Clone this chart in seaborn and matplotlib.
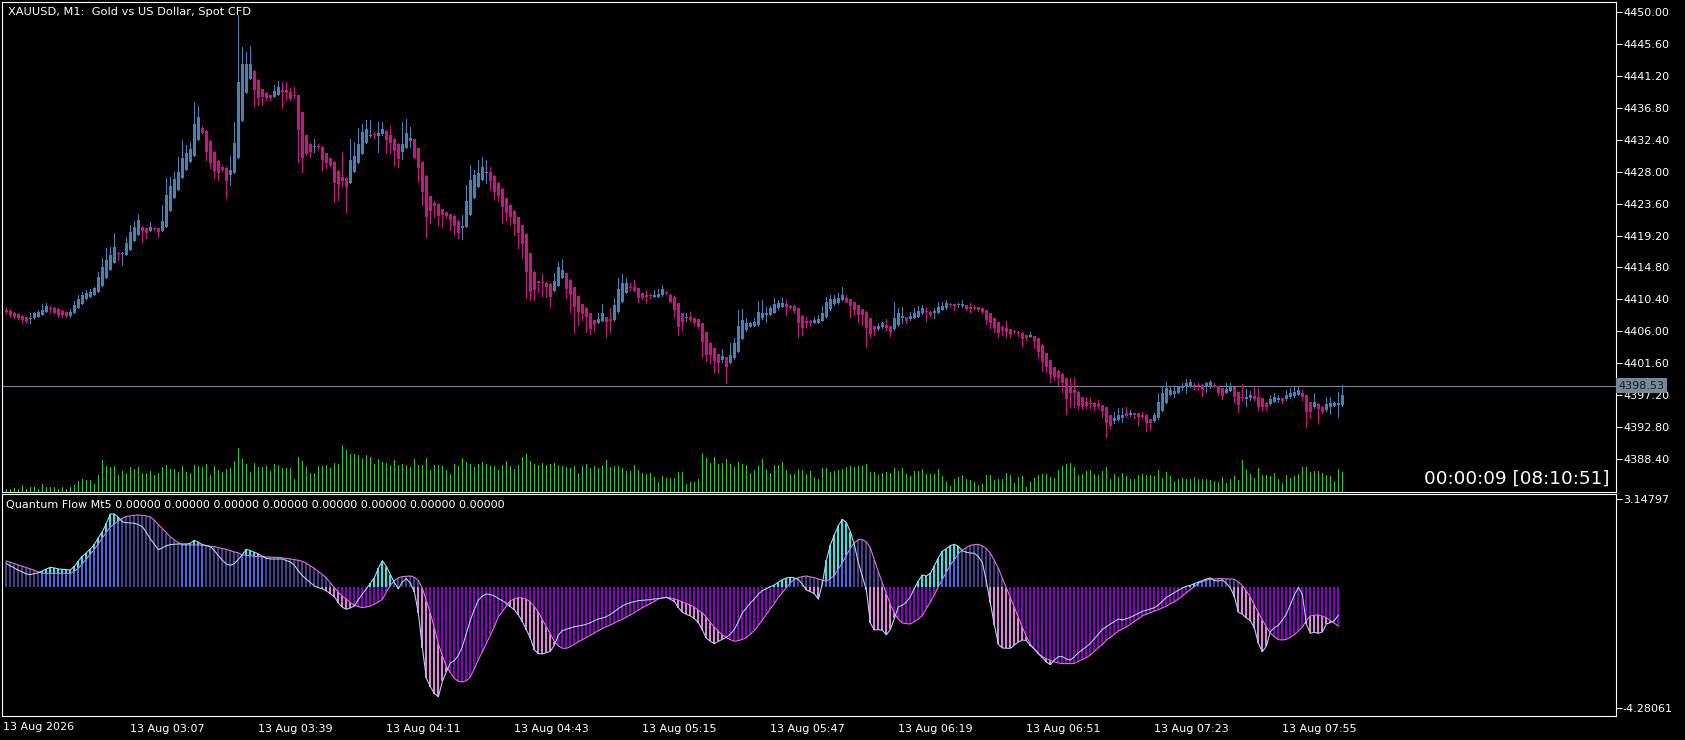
import numpy as np
import pandas as pd
import matplotlib
matplotlib.use("Agg")
import matplotlib.pyplot as plt
import seaborn as sns
from matplotlib.transforms import blended_transform_factory

# ---------------- DATA ----------------
symbol_title = "XAUUSD, M1:  Gold vs US Dollar, Spot CFD"
indicator_title = "Quantum Flow Mt5 0.00000 0.00000 0.00000 0.00000 0.00000 0.00000 0.00000 0.00000"
timer_text = "00:00:09 [08:10:51]"
first_bar_time = "2026-08-13 02:36"
left_date_label = "13 Aug 2026"
time_tick_labels = ["13 Aug 03:07", "13 Aug 03:39", "13 Aug 04:11", "13 Aug 04:43", "13 Aug 05:15",
                    "13 Aug 05:47", "13 Aug 06:19", "13 Aug 06:51", "13 Aug 07:23", "13 Aug 07:55"]
price_ticks = [4450.00, 4445.60, 4441.20, 4436.80, 4432.40, 4428.00, 4423.60, 4419.20, 4414.80,
               4410.40, 4406.00, 4401.60, 4397.20, 4392.80, 4388.40]
bid_price = 4398.53
ind_max_label = 3.14797
ind_min_label = -4.28061

opens = [4408.95,4408.85,4408.58,4408.35,4408.17,4407.94,4407.71,4407.80,4408.03,4408.26,
4408.72,4409.17,4409.17,4409.04,4408.81,4408.62,4408.12,4408.49,4409.17,4409.77,
4410.41,4410.78,4411.01,4411.47,4412.29,4413.40,4414.45,4415.37,4416.74,4416.61,
4416.52,4417.20,4418.49,4419.27,4420.32,4420.19,4419.86,4420.19,4420.19,4419.86,
4420.41,4422.62,4424.31,4425.46,4427.07,4428.21,4429.36,4430.19,4432.34,4434.04,
4433.58,4432.16,4430.69,4429.45,4428.67,4428.44,4427.52,4427.85,4429.91,4435.00,
4438.86,4440.74,4441.84,4440.60,4439.32,4438.76,4438.54,4438.31,4438.54,4439.22,
4439.22,4438.90,4438.54,4438.54,4436.15,4433.03,4431.79,4431.33,4431.52,4431.42,
4430.51,4429.82,4429.36,4428.12,4427.20,4427.07,4426.38,4427.98,4429.13,4430.42,
4431.88,4432.94,4433.08,4432.94,4433.12,4433.58,4433.03,4432.48,4431.79,4430.74,
4431.29,4432.25,4432.43,4431.20,4429.27,4427.39,4424.63,4423.72,4423.53,4422.85,
4422.43,4422.11,4421.88,4421.19,4420.28,4420.41,4422.02,4424.40,4425.92,4426.84,
4427.75,4427.89,4427.39,4426.38,4425.60,4424.31,4423.40,4422.57,4421.70,4420.64,
4419.40,4416.74,4414.22,4412.94,4412.85,4412.71,4412.52,4411.61,4412.25,4413.40,
4413.99,4413.07,4412.06,4410.87,4409.77,4409.22,4408.49,4407.57,4407.20,4407.48,
4407.94,4407.66,4407.57,4408.62,4410.09,4411.33,4412.16,4412.16,4411.93,4411.24,
4411.01,4410.92,4410.78,4410.78,4410.96,4411.47,4411.01,4410.78,4409.86,4408.49,
4407.80,4407.94,4407.80,4407.66,4407.11,4405.87,4404.45,4403.67,4402.89,4402.06,
4402.43,4401.70,4402.29,4403.21,4404.95,4406.19,4406.65,4406.74,4406.88,4407.80,
4408.26,4408.26,4408.58,4409.17,4409.40,4409.77,4409.54,4409.50,4409.17,4408.12,
4407.43,4407.48,4407.20,4407.20,4407.48,4407.94,4409.04,4409.73,4409.86,4410.32,
4410.64,4410.41,4410.09,4409.63,4409.04,4408.72,4407.80,4406.74,4406.28,4406.56,
4406.88,4406.74,4406.28,4406.88,4407.80,4407.94,4407.66,4407.89,4408.03,4408.49,
4408.85,4408.72,4408.49,4408.58,4408.95,4409.17,4409.73,4409.73,4409.59,4409.50,
4409.63,4409.40,4409.36,4409.31,4409.17,4408.95,4408.49,4407.80,4407.25,4406.65,
4406.42,4406.28,4406.01,4405.96,4405.83,4405.46,4405.27,4405.37,4405.04,4404.13,
4402.98,4402.06,4401.06,4400.60,4400.14,4399.54,4398.30,4397.93,4397.70,4396.92,
4396.33,4396.19,4396.19,4396.01,4395.87,4395.55,4394.49,4393.71,4393.81,4394.03,
4394.72,4394.49,4394.72,4394.72,4394.49,4394.49,4393.90,4393.71,4394.03,4395.09,
4396.19,4397.25,4397.38,4397.57,4398.16,4398.30,4398.39,4398.62,4398.62,4398.62,
4398.39,4398.30,4398.62,4398.49,4398.16,4397.57,4397.84,4398.30,4397.66,4396.92,
4396.74,4396.79,4397.11,4397.02,4396.79,4396.19,4396.01,4396.33,4396.56,4396.79,
4396.65,4396.92,4397.11,4397.25,4397.57,4397.25,4396.24,4395.55,4396.01,4395.64,
4395.18,4395.55,4395.78,4395.87,4395.87]

highs = [4409.17,4409.04,4408.70,4408.49,4408.30,4408.00,4408.49,4408.72,4408.95,4409.73,
4409.86,4409.50,4409.40,4409.17,4408.95,4408.72,4409.04,4410.18,4411.01,4411.47,
4411.70,4411.79,4412.16,4414.22,4416.06,4417.43,4417.66,4419.50,4416.90,4416.90,
4418.94,4420.64,4421.24,4422.16,4420.50,4420.30,4421.10,4420.41,4420.30,4423.40,
4427.07,4427.30,4427.98,4430.05,4432.34,4431.65,4432.11,4437.62,4437.02,4434.27,
4433.70,4432.30,4430.80,4429.60,4428.80,4428.60,4430.14,4434.86,4449.55,4445.19,
4444.50,4445.28,4442.00,4440.70,4439.40,4438.90,4438.60,4439.91,4440.46,4440.37,
4440.37,4439.45,4439.59,4438.60,4436.20,4433.10,4431.90,4432.48,4431.80,4431.50,
4430.60,4429.90,4429.40,4428.20,4430.74,4427.20,4432.48,4432.11,4433.95,4434.54,
4435.10,4435.10,4433.50,4434.77,4434.77,4433.70,4434.27,4432.60,4431.90,4434.82,
4435.23,4434.18,4432.50,4431.30,4429.30,4427.50,4424.70,4423.90,4423.60,4422.90,
4422.50,4422.20,4422.00,4421.30,4422.02,4426.15,4428.90,4428.21,4429.59,4430.05,
4429.59,4428.67,4427.50,4426.50,4425.70,4424.40,4423.50,4422.70,4421.80,4420.70,
4419.50,4416.80,4414.30,4413.00,4413.99,4412.80,4412.60,4414.08,4415.60,4415.97,
4414.10,4413.20,4412.10,4410.90,4409.80,4409.30,4408.50,4407.60,4408.49,4409.77,
4408.00,4409.17,4410.55,4413.30,4413.85,4413.30,4412.62,4413.07,4412.00,4411.30,
4411.70,4411.10,4411.70,4411.79,4412.39,4411.60,4411.10,4410.90,4409.90,4408.60,
4408.49,4408.62,4407.90,4407.70,4407.20,4405.90,4404.50,4403.70,4402.90,4403.53,
4402.50,4404.45,4405.04,4408.95,4409.08,4407.80,4407.30,4407.80,4410.18,4410.32,
4409.40,4409.50,4410.55,4410.32,4410.55,4410.32,4409.60,4409.60,4409.20,4408.20,
4407.94,4407.60,4407.94,4408.26,4409.50,4410.78,4411.01,4411.01,4411.24,4412.16,
4411.01,4410.50,4410.10,4409.70,4409.10,4408.80,4407.90,4406.80,4407.11,4407.34,
4407.66,4406.80,4410.09,4409.17,4409.40,4408.00,4408.72,4409.17,4409.50,4409.63,
4409.40,4408.80,4409.17,4410.00,4410.09,4410.32,4409.90,4409.80,4409.95,4410.32,
4409.70,4409.95,4409.63,4409.40,4409.20,4409.00,4408.50,4407.90,4407.30,4406.70,
4407.43,4406.40,4406.19,4406.00,4405.90,4405.50,4405.87,4405.40,4405.10,4404.20,
4403.00,4402.10,4401.10,4400.70,4400.32,4399.60,4399.77,4399.77,4397.80,4397.00,
4397.02,4397.02,4396.30,4396.56,4395.90,4395.60,4394.50,4394.95,4395.41,4395.41,
4395.64,4395.18,4394.80,4394.80,4394.95,4394.60,4394.00,4394.81,4397.57,4398.39,
4399.08,4398.30,4398.39,4398.53,4398.85,4399.45,4399.40,4398.94,4398.94,4398.70,
4399.08,4399.31,4398.85,4398.50,4398.20,4398.94,4398.94,4398.40,4397.70,4398.76,
4398.03,4397.84,4398.30,4398.16,4396.90,4396.30,4397.25,4397.48,4397.25,4396.90,
4397.93,4398.16,4398.30,4398.39,4397.93,4397.30,4396.30,4397.48,4396.10,4395.70,
4396.92,4397.02,4396.33,4397.70,4398.62]

lows = [4408.49,4408.03,4407.80,4407.66,4407.20,4407.11,4407.20,4407.66,4408.03,4408.26,
4408.72,4408.72,4408.49,4408.03,4408.03,4407.94,4407.94,4408.49,4409.17,4409.77,
4410.41,4410.78,4411.01,4411.47,4412.29,4413.40,4414.45,4415.37,4415.83,4415.14,
4416.52,4417.20,4418.49,4419.27,4418.35,4418.81,4419.86,4419.96,4419.04,4419.86,
4420.41,4422.62,4424.31,4425.46,4427.07,4428.21,4429.36,4430.19,4432.34,4433.26,
4429.59,4428.44,4427.07,4426.84,4428.10,4424.31,4426.15,4427.85,4429.91,4435.00,
4438.86,4440.74,4436.93,4437.16,4437.16,4437.90,4437.90,4438.31,4438.54,4436.70,
4437.85,4437.80,4438.08,4429.27,4427.98,4430.30,4429.96,4430.74,4431.10,4428.21,
4428.44,4428.70,4423.85,4424.08,4425.92,4422.48,4426.38,4427.98,4429.13,4430.42,
4431.88,4432.80,4432.60,4430.74,4433.00,4430.51,4430.51,4428.90,4428.67,4429.68,
4431.29,4431.42,4429.80,4426.61,4423.40,4418.95,4420.87,4421.79,4420.64,4420.41,
4421.60,4419.96,4419.27,4418.81,4418.72,4420.41,4422.02,4424.40,4425.92,4426.84,
4426.38,4425.46,4424.17,4424.08,4420.96,4421.33,4420.64,4419.27,4417.43,4416.06,
4410.55,4410.32,4410.32,4411.47,4410.92,4410.78,4409.31,4411.50,4412.20,4413.30,
4410.55,4408.72,4405.96,4406.88,4407.57,4405.96,4405.60,4406.05,4407.10,4407.40,
4405.27,4405.96,4407.50,4408.60,4410.00,4411.30,4411.70,4411.50,4410.09,4410.50,
4409.86,4410.60,4410.70,4410.70,4410.90,4411.10,4410.00,4408.03,4405.50,4406.19,
4407.48,4407.50,4406.88,4406.50,4402.52,4401.93,4401.61,4400.46,4400.23,4401.83,
4398.85,4401.60,4402.20,4403.10,4404.90,4406.10,4406.60,4406.70,4406.80,4407.70,
4407.34,4408.20,4408.50,4409.10,4409.30,4408.26,4409.10,4408.49,4405.27,4405.50,
4406.65,4406.74,4407.10,4407.10,4407.40,4407.90,4409.00,4409.70,4409.80,4410.30,
4410.00,4408.03,4408.26,4407.34,4406.88,4403.90,4405.27,4405.50,4406.20,4406.50,
4406.19,4405.37,4406.20,4406.80,4407.11,4407.20,4407.60,4407.80,4408.00,4408.40,
4407.48,4408.10,4407.80,4408.50,4408.90,4409.10,4409.50,4408.95,4409.40,4409.40,
4408.90,4408.72,4409.10,4408.80,4408.49,4407.02,4406.42,4405.96,4405.27,4405.50,
4405.27,4405.18,4405.73,4405.37,4403.81,4404.82,4405.20,4403.67,4402.29,4400.60,
4400.46,4399.08,4399.31,4398.62,4397.70,4394.59,4395.64,4395.55,4395.27,4395.27,
4395.50,4395.41,4395.18,4395.41,4394.26,4391.42,4392.66,4393.35,4393.70,4393.58,
4394.20,4394.40,4394.03,4393.12,4394.03,4392.34,4392.43,4393.60,4393.90,4395.00,
4396.10,4397.20,4397.02,4397.50,4397.93,4397.57,4398.30,4398.03,4397.93,4397.11,
4397.70,4398.20,4398.30,4397.25,4396.65,4397.50,4397.80,4396.33,4394.95,4396.56,
4395.73,4396.56,4396.50,4395.18,4395.09,4395.18,4395.90,4396.30,4396.33,4396.10,
4396.60,4396.90,4397.00,4397.20,4396.56,4392.89,4394.03,4395.50,4393.44,4394.72,
4395.10,4394.63,4395.70,4394.26,4395.80]

closes = [4408.72,4408.26,4408.03,4407.89,4407.57,4407.34,4407.89,4408.49,4408.72,4408.95,
4409.50,4409.08,4408.58,4408.26,4408.26,4408.12,4408.72,4409.63,4410.46,4411.01,
4411.24,4411.47,4411.93,4413.44,4414.91,4415.83,4416.52,4417.66,4416.61,4416.74,
4418.12,4419.73,4420.41,4421.33,4419.82,4419.59,4420.41,4420.14,4419.63,4421.24,
4424.77,4426.01,4426.97,4427.98,4429.82,4430.51,4431.10,4434.50,4435.46,4433.26,
4430.74,4429.22,4428.12,4427.75,4428.21,4426.75,4428.21,4431.88,4440.37,4442.80,
4442.80,4442.80,4439.22,4438.08,4438.21,4438.08,4438.17,4439.09,4439.68,4438.99,
4438.76,4437.94,4438.44,4433.72,4429.86,4430.42,4430.74,4431.52,4431.33,4429.59,
4429.13,4428.90,4426.47,4426.29,4426.75,4425.83,4429.59,4430.14,4431.79,4433.44,
4433.81,4433.08,4432.99,4433.26,4433.81,4432.34,4431.97,4430.87,4429.68,4431.79,
4433.35,4432.66,4429.91,4428.44,4425.23,4421.79,4422.57,4423.26,4421.88,4422.02,
4421.88,4421.33,4420.51,4419.50,4420.51,4423.94,4426.84,4427.52,4427.85,4428.58,
4427.98,4426.75,4425.23,4424.68,4423.07,4422.25,4421.79,4420.78,4419.59,4417.98,
4414.22,4411.38,4411.70,4412.62,4412.62,4412.16,4410.78,4412.98,4414.82,4414.45,
4411.88,4411.01,4409.40,4408.72,4408.40,4407.94,4406.33,4407.02,4407.66,4408.49,
4407.34,4407.48,4409.63,4411.84,4412.62,4412.62,4412.02,4411.61,4410.64,4410.64,
4410.69,4410.83,4411.01,4411.15,4411.88,4411.24,4410.09,4408.95,4406.65,4407.34,
4407.98,4407.57,4407.20,4406.65,4404.59,4402.75,4402.75,4401.93,4401.61,4402.61,
4401.15,4402.75,4404.45,4406.74,4407.57,4407.20,4407.20,4407.34,4408.72,4408.58,
4408.49,4409.17,4409.77,4409.95,4409.86,4409.40,4409.17,4408.85,4407.11,4406.42,
4407.20,4407.11,4407.57,4407.66,4408.49,4410.09,4410.46,4410.41,4410.55,4411.01,
4410.09,4409.54,4408.95,4408.26,4408.26,4406.42,4405.60,4406.19,4406.74,4407.20,
4406.42,4405.96,4407.89,4408.49,4408.12,4407.48,4408.12,4408.49,4408.81,4409.17,
4408.62,4408.26,4408.81,4409.40,4409.50,4409.86,4409.68,4409.50,4409.63,4409.77,
4409.04,4409.04,4409.27,4408.95,4408.72,4407.57,4407.11,4406.42,4405.73,4406.19,
4405.96,4405.64,4405.92,4405.83,4404.91,4405.04,4405.55,4404.68,4403.21,4401.83,
4401.15,4400.00,4399.77,4399.63,4398.94,4396.65,4397.57,4397.57,4395.73,4395.64,
4395.73,4396.01,4395.64,4395.73,4395.09,4393.44,4392.98,4394.03,4394.49,4394.49,
4394.36,4394.81,4394.49,4394.26,4394.26,4393.35,4393.44,4394.49,4396.33,4397.57,
4398.26,4397.93,4397.84,4398.39,4398.39,4398.85,4399.08,4398.49,4398.49,4397.93,
4398.85,4398.99,4398.39,4397.57,4397.11,4398.03,4398.39,4397.02,4395.87,4396.83,
4397.02,4397.25,4396.65,4395.55,4395.55,4395.64,4396.65,4397.02,4396.79,4396.42,
4397.25,4397.57,4397.70,4397.93,4396.92,4394.95,4394.95,4396.33,4395.27,4394.95,
4396.01,4396.10,4396.10,4396.19,4397.25]

volumes = [10,8,12,10,20,8,15,15,10,25,15,15,15,10,15,8,15,20,32,40,
35,35,25,50,95,78,75,78,50,62,58,75,70,75,58,58,62,52,58,75,
82,70,68,60,78,60,58,80,78,75,85,52,78,65,60,70,72,92,132,100,
85,60,88,75,75,78,62,83,80,72,72,72,38,105,92,75,58,58,78,78,
82,72,88,85,140,125,115,115,112,100,110,104,85,98,90,88,82,95,82,85,
82,75,98,80,80,102,65,80,80,78,65,55,85,78,102,90,85,75,85,90,
85,78,78,65,80,92,78,68,82,105,113,92,85,82,88,82,85,88,82,78,
75,72,78,58,78,85,72,78,72,82,95,75,78,78,72,62,62,80,65,57,
55,57,45,30,47,42,42,42,60,60,25,30,30,38,117,102,87,105,85,87,
98,85,75,90,85,82,58,65,78,98,70,58,80,82,90,65,55,55,68,65,
55,62,45,38,72,72,60,62,65,68,75,78,75,78,78,84,60,60,52,58,
60,58,72,62,72,55,48,62,62,68,55,55,55,68,48,30,18,38,45,50,
40,35,30,22,25,50,52,35,38,40,58,52,28,45,48,15,30,42,52,55,
55,45,42,65,78,85,87,75,52,55,62,65,55,50,62,75,38,55,45,58,
48,38,38,52,55,52,50,48,65,42,60,48,32,38,42,38,40,45,38,38,
38,35,32,30,45,28,38,48,35,95,70,55,42,72,52,52,48,58,38,28,
52,42,48,55,75,75,60,62,62,58,50,48,32,68,60]

slow_line = [0.938,0.890,0.843,0.795,0.748,0.700,0.653,0.605,0.546,0.499,
0.499,0.499,0.499,0.499,0.499,0.499,0.499,0.570,0.677,0.843,
1.009,1.187,1.353,1.555,1.757,1.959,2.149,2.255,2.362,2.457,
2.529,2.540,2.564,2.576,2.564,2.540,2.505,2.386,2.232,2.089,
1.947,1.793,1.686,1.591,1.508,1.508,1.508,1.508,1.508,1.496,
1.484,1.460,1.448,1.413,1.377,1.353,1.306,1.258,1.223,1.152,
1.140,1.128,1.104,1.092,1.092,1.080,1.080,1.068,1.068,1.045,
1.033,1.009,0.985,0.962,0.926,0.855,0.760,0.677,0.558,0.451,
0.332,0.154,-0.012,-0.178,-0.321,-0.427,-0.546,-0.641,-0.689,-0.724,
-0.700,-0.665,-0.605,-0.522,-0.427,-0.166,0.071,0.237,0.344,0.380,
0.392,0.404,0.356,0.237,-0.036,-0.475,-0.926,-1.448,-2.018,-2.434,
-2.825,-3.039,-3.241,-3.348,-3.371,-3.324,-3.181,-2.897,-2.576,-2.291,
-1.994,-1.698,-1.401,-1.045,-0.855,-0.665,-0.475,-0.415,-0.368,-0.380,
-0.427,-0.522,-0.689,-0.890,-1.152,-1.413,-1.662,-1.935,-2.089,-2.172,
-2.172,-2.113,-2.030,-1.935,-1.864,-1.781,-1.709,-1.626,-1.543,-1.472,
-1.401,-1.341,-1.270,-1.199,-1.140,-1.057,-0.985,-0.902,-0.807,-0.724,
-0.653,-0.582,-0.499,-0.415,-0.380,-0.356,-0.380,-0.415,-0.463,-0.522,
-0.582,-0.629,-0.712,-0.819,-0.914,-1.069,-1.258,-1.425,-1.567,-1.698,
-1.793,-1.864,-1.923,-1.899,-1.852,-1.793,-1.662,-1.531,-1.353,-1.163,
-0.962,-0.760,-0.570,-0.356,-0.190,-0.012,0.166,0.285,0.344,0.380,
0.404,0.368,0.344,0.297,0.249,0.214,0.309,0.416,0.653,0.878,
1.140,1.401,1.591,1.698,1.698,1.615,1.401,0.973,0.546,0.154,
-0.237,-0.605,-0.926,-1.140,-1.270,-1.294,-1.306,-1.223,-1.128,-1.009,
-0.748,-0.522,-0.261,0.024,0.285,0.546,0.795,0.985,1.199,1.330,
1.413,1.496,1.520,1.531,1.472,1.377,1.211,0.950,0.677,0.321,
-0.024,-0.368,-0.712,-1.080,-1.425,-1.757,-2.018,-2.208,-2.374,-2.469,
-2.540,-2.600,-2.659,-2.695,-2.718,-2.718,-2.718,-2.706,-2.635,-2.564,
-2.505,-2.410,-2.279,-2.149,-2.042,-1.876,-1.781,-1.674,-1.555,-1.484,
-1.413,-1.318,-1.211,-1.128,-1.009,-0.962,-0.902,-0.843,-0.795,-0.736,
-0.665,-0.582,-0.510,-0.415,-0.309,-0.190,-0.083,0.024,0.142,0.214,
0.249,0.297,0.297,0.309,0.309,0.297,0.297,0.285,0.190,0.059,
-0.131,-0.344,-0.641,-0.902,-1.163,-1.413,-1.638,-1.757,-1.864,-1.876,
-1.852,-1.781,-1.686,-1.555,-1.413,-1.187,-1.021,-0.997,-0.985,-1.033,
-1.080,-1.187,-1.282,-1.377]

fast_line = [0.843,0.760,0.689,0.605,0.546,0.475,0.451,0.487,0.522,0.582,
0.653,0.712,0.689,0.653,0.641,0.629,0.617,0.748,0.938,1.104,
1.235,1.365,1.531,1.769,1.982,2.279,2.612,2.612,2.493,2.327,
2.303,2.291,2.279,2.232,2.161,1.947,1.721,1.531,1.341,1.401,
1.484,1.520,1.531,1.543,1.543,1.543,1.567,1.674,1.603,1.520,
1.484,1.448,1.306,1.128,0.962,0.831,0.783,0.843,0.997,1.163,
1.353,1.306,1.247,1.187,1.104,1.033,1.009,1.009,1.009,1.009,
0.950,0.902,0.783,0.582,0.416,0.285,0.166,0.047,-0.012,-0.059,
-0.131,-0.226,-0.332,-0.558,-0.712,-0.783,-0.736,-0.665,-0.439,-0.237,
-0.047,0.142,0.344,0.677,0.950,0.736,0.451,0.166,-0.047,0.190,
0.309,0.142,-0.166,-0.926,-2.161,-3.241,-3.538,-3.787,-3.894,-3.348,
-3.003,-2.695,-2.612,-2.422,-2.113,-1.638,-1.163,-0.783,-0.451,-0.309,
-0.237,-0.261,-0.309,-0.404,-0.475,-0.570,-0.689,-0.807,-0.985,-1.223,
-1.508,-1.816,-2.232,-2.362,-2.374,-2.327,-2.279,-2.054,-1.698,-1.543,
-1.496,-1.448,-1.401,-1.377,-1.353,-1.318,-1.258,-1.187,-1.128,-1.092,
-1.045,-0.962,-0.867,-0.760,-0.665,-0.594,-0.546,-0.510,-0.475,-0.463,
-0.451,-0.439,-0.415,-0.404,-0.380,-0.356,-0.427,-0.510,-0.724,-0.890,
-0.962,-1.021,-1.116,-1.258,-1.520,-1.816,-1.923,-2.006,-1.923,-1.852,
-1.781,-1.662,-1.496,-1.223,-0.902,-0.736,-0.558,-0.415,-0.237,-0.119,
-0.047,0.024,0.083,0.178,0.273,0.332,0.356,0.332,0.273,0.107,
-0.095,-0.154,-0.226,-0.427,0.142,0.973,1.508,1.864,2.196,2.422,
2.303,1.982,1.508,0.878,0.380,-0.095,-1.282,-1.520,-1.508,-1.531,
-1.686,-1.496,-1.104,-0.689,-0.641,-0.522,-0.332,-0.036,0.226,0.439,
0.404,0.499,0.760,1.057,1.282,1.377,1.484,1.531,1.460,1.294,
1.247,1.223,1.211,1.092,0.878,0.202,-0.570,-1.341,-2.030,-2.161,
-2.172,-2.172,-2.054,-1.947,-1.876,-1.899,-2.077,-2.196,-2.350,-2.505,
-2.659,-2.754,-2.588,-2.469,-2.469,-2.552,-2.588,-2.469,-2.327,-2.220,
-2.113,-1.994,-1.828,-1.662,-1.496,-1.401,-1.306,-1.223,-1.128,-1.163,
-1.116,-1.069,-0.997,-0.926,-0.855,-0.819,-0.772,-0.724,-0.629,-0.499,
-0.356,-0.273,-0.190,-0.107,-0.024,0.036,0.071,0.131,0.190,0.237,
0.297,0.332,0.237,0.226,0.261,0.142,-0.024,-0.332,-0.890,-0.962,
-1.092,-1.187,-1.448,-1.994,-2.291,-2.089,-1.579,-1.436,-1.353,-1.163,
-0.950,-0.617,-0.273,0.000,-0.261,-1.318,-1.638,-1.603,-1.638,-1.591,
-1.306,-1.258,-1.187,-0.985]

# ---------------- STYLE ----------------
sns.set_theme(style="dark")
plt.rcParams["font.family"] = ["DejaVu Sans"]
plt.rcParams["axes.grid"] = False

BG = "#000000"
FG = "#ffffff"
BULL = "#4682B4"
BEAR = "#C71585"
VOL = "#2EC82E"
C_CYAN = "#1EF0F0"
C_ROYAL = "#4169E1"
C_SLATE = "#483D8B"
C_PURPLE = "#8A00C8"
C_PINK = "#E47FE0"
C_FAST = "#A8D4EC"
C_SLOW = "#E070E0"

W, H = 1685, 740
def rect(x0, y0, x1, y1):
    return [x0 / W, 1 - y1 / H, (x1 - x0) / W, (y1 - y0) / H]

fig = plt.figure(figsize=(W / 100, H / 100), dpi=100, facecolor=BG)

o = np.array(opens); h = np.array(highs); l = np.array(lows); c = np.array(closes)
idx = np.arange(len(c))
times = pd.date_range(first_bar_time, periods=len(c), freq="min")
xlim = (-1.1, 402.4)

# volume panel (behind candles)
ax_vol = fig.add_axes(rect(2, 2, 1616, 492))
ax_vol.set_facecolor(BG)
ax_vol.vlines(idx, 0, np.array(volumes), color=VOL, lw=0.6, antialiased=False)
ax_vol.set_ylim(0, 1470)
ax_vol.set_xlim(*xlim)
ax_vol.set_xticks([]); ax_vol.set_yticks([])
for s in ax_vol.spines.values():
    s.set_visible(False)

# candles
ax = fig.add_axes(rect(2, 2, 1616, 492))
ax.patch.set_alpha(0)
bull = c >= o
col = np.where(bull, BULL, BEAR)
ax.vlines(idx, l, h, colors=col, lw=0.6, antialiased=False, zorder=2)
body_bot = np.minimum(o, c)
body_h = np.maximum(np.abs(c - o), 0.14)
ax.bar(idx, body_h, bottom=body_bot, width=0.78, color=col, linewidth=0, antialiased=False, zorder=3)
ax.axhline(bid_price, color="#778899", lw=0.8, zorder=1)
ax.set_xlim(*xlim)
ax.set_ylim(4383.90, 4451.335)
ax.yaxis.tick_right()
ax.set_yticks(price_ticks)
ax.set_yticklabels([f"{v:.2f}" for v in price_ticks])
ax.tick_params(axis="y", colors=FG, length=4, width=0.8, labelsize=8, pad=1, direction="out")
ax.set_xticks([])
for s in ax.spines.values():
    s.set_color(FG); s.set_linewidth(0.8)
tr = blended_transform_factory(ax.transAxes, ax.transData)
ax.text(1.0015, bid_price, f"{bid_price:.2f}", transform=tr, ha="left", va="center",
        fontsize=8, color="#1c1c1c", zorder=10, clip_on=False,
        bbox=dict(facecolor="#778899", edgecolor="none", pad=1.6))

fig.text(8 / W, 1 - 12 / H, symbol_title, color=FG, fontsize=8.2, ha="left", va="center")
fig.text(1609 / W, 1 - 479 / H, timer_text, color=FG, fontsize=13.2, ha="right", va="center")

# indicator panel
axi = fig.add_axes(rect(2, 494, 1616, 716))
axi.set_facecolor(BG)
s_ = np.array(slow_line); f_ = np.array(fast_line)
ii = np.arange(len(s_))
base_col = np.where(s_ > 0, np.where(f_ > s_, C_ROYAL, C_SLATE), C_PURPLE)
axi.bar(ii, s_, bottom=0, width=0.5, color=base_col, linewidth=0, antialiased=False, zorder=2)
up = f_ > np.maximum(s_, 0)
dn = f_ < np.minimum(s_, 0)
lo_up = np.maximum(s_, 0)
axi.bar(ii[up], (f_ - lo_up)[up], bottom=lo_up[up], width=0.5, color=C_CYAN, linewidth=0,
        antialiased=False, zorder=2)
hi_dn = np.minimum(s_, 0)
axi.bar(ii[dn], (f_ - hi_dn)[dn], bottom=hi_dn[dn], width=0.5, color=C_PINK, linewidth=0,
        antialiased=False, zorder=2)
sns.lineplot(x=ii, y=s_, ax=axi, color=C_SLOW, linewidth=0.8, estimator=None, sort=False, legend=False, zorder=4)
sns.lineplot(x=ii, y=f_, ax=axi, color=C_FAST, linewidth=0.8, estimator=None, sort=False, legend=False, zorder=5)
axi.set_xlim(*xlim)
axi.set_ylim(-4.5833, 3.3226)
axi.set_xlabel(""); axi.set_ylabel("")
axi.yaxis.tick_right()
axi.set_yticks([ind_max_label, ind_min_label])
axi.set_yticklabels([f"{ind_max_label:.5f}", f"{ind_min_label:.5f}"])
axi.tick_params(axis="y", colors=FG, length=4, width=0.8, labelsize=8, pad=1, direction="out")
tick_pos = [times.get_loc(pd.Timestamp("2026-08-13 " + t[-5:])) for t in time_tick_labels]
axi.set_xticks(tick_pos)
axi.set_xticklabels(time_tick_labels, ha="left")
axi.tick_params(axis="x", colors=FG, length=4, width=0.8, labelsize=8, pad=2, direction="out")
for s in axi.spines.values():
    s.set_color(FG); s.set_linewidth(0.8)

fig.text(6 / W, 1 - 505 / H, indicator_title, color=FG, fontsize=8, ha="left", va="center")
fig.text(3 / W, 1 - 727 / H, left_date_label, color=FG, fontsize=8, ha="left", va="center")

fig.savefig("out.png", dpi=100, facecolor=BG)
